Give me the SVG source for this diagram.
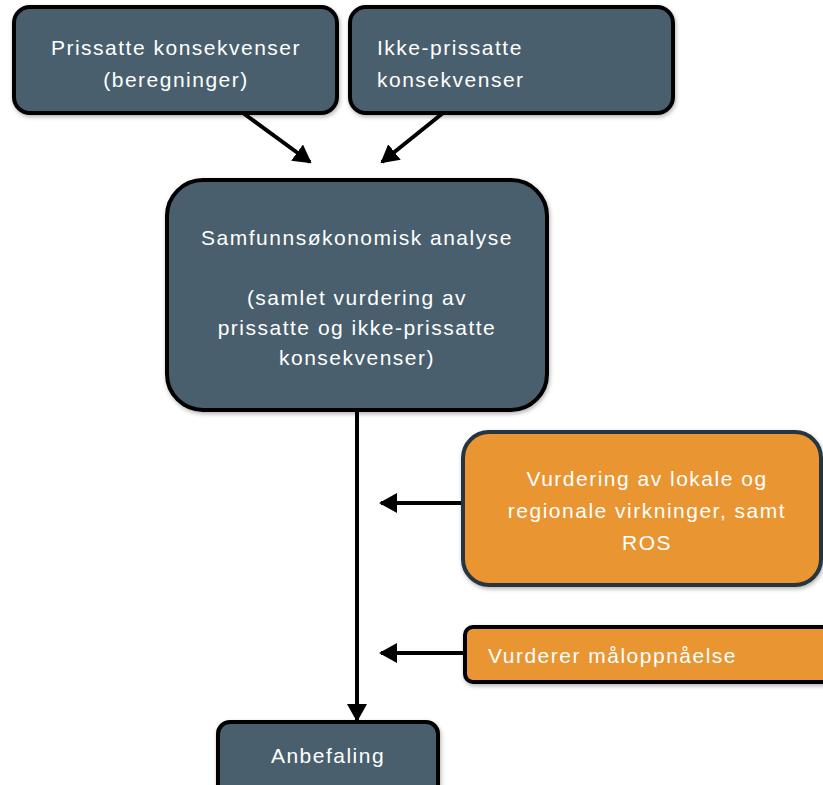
<svg xmlns="http://www.w3.org/2000/svg" width="823" height="785" viewBox="0 0 823 785">
<style>
.slate{fill:#4A5F6D;stroke:#000;stroke-width:4}
.orange{fill:#E99530;stroke:#26343F;stroke-width:4}
.t{font-family:"Liberation Sans",Arial,sans-serif;font-size:21px;letter-spacing:1.5px;fill:#FFFFFF}
.c{text-anchor:middle}
.conn{stroke:#000;stroke-width:4;fill:none}
</style>
<defs>
<marker id="ah" markerWidth="5" markerHeight="5" refX="4" refY="2.5" orient="auto" markerUnits="strokeWidth">
<path d="M0,0 L4.5,2.5 L0,5 Z" fill="#000"/>
</marker>
<filter id="sh" x="-10%" y="-10%" width="130%" height="130%">
<feDropShadow dx="1" dy="2" stdDeviation="2" flood-color="#000" flood-opacity="0.3"/>
</filter>
</defs>
<g id="connectors">
<line class="conn" x1="243" y1="113" x2="310" y2="162" marker-end="url(#ah)"/>
<line class="conn" x1="443" y1="113" x2="382" y2="162" marker-end="url(#ah)"/>
<line class="conn" x1="357" y1="410" x2="357" y2="720" marker-end="url(#ah)"/>
<line class="conn" x1="463" y1="503" x2="381" y2="503" marker-end="url(#ah)"/>
<line class="conn" x1="465" y1="653" x2="381" y2="653" marker-end="url(#ah)"/>
</g>
<g id="prissatte">
<rect class="slate" x="14" y="7" width="323" height="106" rx="16" filter="url(#sh)"/>
<text class="t c" x="176" y="55">Prissatte konsekvenser</text>
<text class="t c" x="176" y="87">(beregninger)</text>
</g>
<g id="ikke-prissatte">
<rect class="slate" x="350" y="7" width="323" height="106" rx="16" filter="url(#sh)"/>
<text class="t" x="377" y="55">Ikke-prissatte</text>
<text class="t" x="377" y="87">konsekvenser</text>
</g>
<g id="samfunn">
<rect class="slate" x="167" y="180" width="380" height="230" rx="36" filter="url(#sh)"/>
<text class="t c" x="357" y="245">Samfunnsøkonomisk analyse</text>
<text class="t c" x="357" y="305">(samlet vurdering av</text>
<text class="t c" x="357" y="335">prissatte og ikke-prissatte</text>
<text class="t c" x="357" y="365">konsekvenser)</text>
</g>
<g id="lokale">
<rect class="orange" x="463" y="432" width="358" height="153" rx="26" filter="url(#sh)"/>
<text class="t c" x="647" y="486">Vurdering av lokale og</text>
<text class="t c" x="647" y="518">regionale virkninger, samt</text>
<text class="t c" x="647" y="550">ROS</text>
</g>
<g id="maal">
<rect class="orange" x="465" y="627" width="370" height="55" rx="8" style="stroke:#000" filter="url(#sh)"/>
<text class="t" x="488" y="663">Vurderer måloppnåelse</text>
</g>
<g id="anbefaling">
<rect class="slate" x="218" y="722" width="220" height="80" rx="12" filter="url(#sh)"/>
<text class="t c" x="328" y="763">Anbefaling</text>
</g>
</svg>
